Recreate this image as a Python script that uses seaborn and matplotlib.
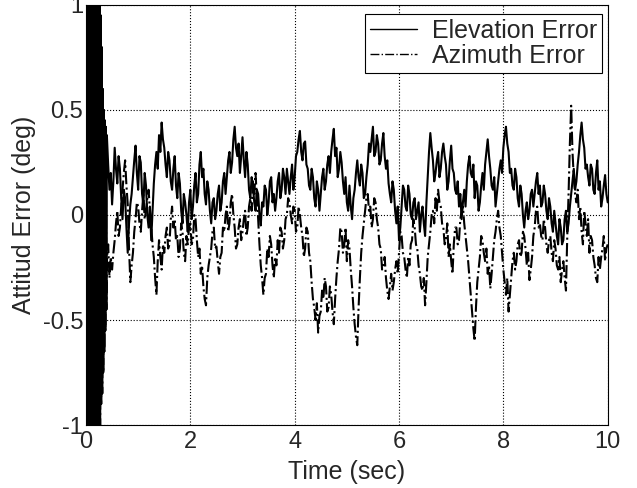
import numpy as np
import pandas as pd
import matplotlib
matplotlib.use("Agg")
import matplotlib.pyplot as plt
import seaborn as sns

# start-up transient, sampled every 0.01 s (0.00 .. 0.39)
transient = [1.9, -1.9, 1.9, -1.8, 1.8, -1.8, 1.7, -1.7, 1.7, -1.6,
             1.6, -1.6, 1.5, -1.5, 1.5, -1.4, 1.4, -1.4, 1.3, -1.3,
             1.3, -1.25, 1.2, -1.2, 1.15, -1.1, 1.05, -1.0, 0.95, -0.9,
             0.8, -0.85, 0.6, -0.75, 0.5, -0.65, 0.45, -0.55, 0.42, -0.45]

# steady part, sampled every 0.025 s (0.40 .. 10.00)
elevation = [
    0.38, 0.24, 0.12, 0.20, 0.05, 0.16, 0.32, 0.22, 0.15, 0.28, 0.22, 0.08, -0.02, 0.12, 0.08, -0.06, -0.18, -0.04, 0.05, 0.10,
    0.18, 0.26, 0.33, 0.20, 0.12, 0.28, 0.25, 0.10, 0.05, 0.20, 0.14, 0.00, -0.06, 0.04, -0.12, 0.02, 0.15, 0.24, 0.30, 0.22,
    0.38, 0.30, 0.44, 0.36, 0.32, 0.24, 0.18, 0.30, 0.26, 0.16, 0.12, 0.22, 0.28, 0.14, 0.08, 0.20, 0.15, 0.02, -0.04, 0.10,
    0.06, 0.00, -0.08, 0.06, 0.12, -0.02, 0.04, 0.14, 0.20, 0.06, 0.10, 0.24, 0.30, 0.18, 0.22, 0.10, 0.05, 0.16, 0.12, 0.02,
    -0.04, 0.06, 0.08, -0.02, 0.02, 0.10, 0.14, 0.02, 0.06, 0.16, 0.20, 0.10, 0.18, 0.26, 0.30, 0.20, 0.25, 0.36, 0.42, 0.32,
    0.28, 0.34, 0.20, 0.28, 0.37, 0.26, 0.18, 0.30, 0.24, 0.12, 0.08, 0.18, 0.14, 0.06, 0.02, 0.12, 0.10, 0.00, -0.05, 0.06,
    0.04, 0.14, 0.12, 0.00, 0.06, 0.16, 0.18, 0.06, 0.10, 0.02, 0.08, 0.16, 0.20, 0.08, 0.12, 0.22, 0.18, 0.10, 0.22, 0.16,
    0.10, 0.18, 0.24, 0.12, 0.18, 0.28, 0.30, 0.36, 0.40, 0.30, 0.26, 0.34, 0.35, 0.24, 0.22, 0.14, 0.12, 0.22, 0.18, 0.08,
    0.04, 0.16, 0.12, 0.02, 0.10, 0.18, 0.22, 0.12, 0.16, 0.24, 0.28, 0.20, 0.30, 0.36, 0.41, 0.28, 0.32, 0.18, 0.22, 0.30,
    0.25, 0.16, 0.10, 0.18, 0.06, 0.02, 0.14, 0.04, -0.02, 0.08, 0.12, 0.20, 0.26, 0.18, 0.14, 0.24, 0.20, 0.08, 0.10, 0.18,
    0.24, 0.34, 0.30, 0.36, 0.42, 0.28, 0.30, 0.38, 0.34, 0.24, 0.26, 0.34, 0.39, 0.28, 0.22, 0.26, 0.15, 0.10, 0.06, 0.16,
    0.12, 0.02, -0.04, 0.04, -0.12, -0.06, 0.04, 0.14, 0.12, 0.04, 0.02, 0.14, 0.10, 0.00, -0.02, 0.06, 0.08, -0.02, 0.02, 0.06,
    -0.08, 0.00, 0.04, -0.04, -0.10, 0.06, 0.18, 0.30, 0.39, 0.32, 0.26, 0.16, 0.20, 0.26, 0.30, 0.18, 0.22, 0.30, 0.34, 0.28,
    0.24, 0.12, 0.16, 0.26, 0.33, 0.22, 0.20, 0.12, 0.10, 0.16, 0.04, 0.10, -0.02, 0.06, 0.12, 0.04, 0.16, 0.24, 0.28, 0.20,
    0.18, 0.24, 0.08, 0.16, 0.14, 0.02, 0.06, 0.14, 0.20, 0.12, 0.24, 0.30, 0.36, 0.28, 0.22, 0.14, 0.12, 0.18, 0.04, 0.10,
    0.16, 0.22, 0.26, 0.20, 0.32, 0.38, 0.42, 0.34, 0.30, 0.20, 0.22, 0.14, 0.12, 0.22, 0.18, 0.08, 0.04, 0.14, 0.10, 0.00,
    -0.06, 0.02, 0.06, -0.02, 0.02, 0.10, 0.12, 0.04, 0.10, 0.16, 0.20, 0.10, 0.14, 0.04, 0.06, 0.14, 0.10, 0.02, -0.02, 0.08,
    0.04, -0.04, -0.08, 0.02, -0.04, -0.10, -0.14, -0.02, -0.06, -0.14, -0.12, -0.02, 0.02, -0.08, -0.04, 0.04, 0.10, 0.16, 0.22, 0.12,
    0.16, 0.24, 0.30, 0.38, 0.44, 0.36, 0.32, 0.22, 0.24, 0.18, 0.14, 0.24, 0.22, 0.12, 0.10, 0.20, 0.26, 0.12, 0.16, 0.04,
    0.08, 0.14, 0.19, 0.10, 0.06]

azimuth = [
    -0.22, -0.14, -0.30, -0.20, -0.26, -0.18, -0.12, -0.04, 0.02, -0.10, -0.06, 0.04, 0.12, 0.20, 0.26, 0.14, 0.05, -0.16, -0.32, -0.24,
    -0.18, -0.08, -0.02, 0.06, 0.04, -0.04, -0.08, 0.02, 0.10, -0.02, 0.02, 0.08, 0.12, 0.02, -0.05, -0.14, -0.20, -0.30, -0.38, -0.22,
    -0.12, -0.20, -0.26, -0.14, -0.18, -0.10, -0.06, -0.16, -0.14, -0.02, 0.04, -0.06, -0.02, -0.12, -0.10, -0.20, -0.16, -0.04, -0.08, -0.18,
    -0.22, -0.10, -0.14, -0.06, -0.04, -0.14, -0.12, 0.00, -0.02, -0.12, -0.20, -0.16, -0.28, -0.24, -0.34, -0.40, -0.43, -0.30, -0.24, -0.20,
    -0.16, -0.08, -0.06, -0.16, -0.15, -0.22, -0.28, -0.20, -0.18, -0.06, -0.08, 0.00, 0.04, -0.08, -0.04, 0.06, 0.10, 0.00, -0.06, -0.16,
    -0.14, -0.06, -0.02, -0.12, -0.08, -0.02, 0.02, -0.10, -0.06, 0.04, 0.08, 0.02, 0.16, 0.10, 0.20, 0.08, -0.02, -0.14, -0.24, -0.30,
    -0.38, -0.30, -0.28, -0.16, -0.20, -0.10, -0.14, -0.24, -0.30, -0.20, -0.24, -0.12, -0.18, -0.06, -0.08, -0.16, -0.12, -0.02, 0.00, 0.08,
    0.06, 0.00, -0.04, 0.04, 0.02, -0.08, -0.06, 0.04, 0.00, -0.06, -0.10, -0.20, -0.16, -0.06, -0.08, -0.18, -0.22, -0.32, -0.40, -0.44,
    -0.50, -0.42, -0.56, -0.48, -0.46, -0.36, -0.40, -0.30, -0.34, -0.46, -0.44, -0.34, -0.38, -0.46, -0.52, -0.40, -0.30, -0.22, -0.16, -0.06,
    -0.08, -0.18, -0.14, -0.06, -0.22, -0.12, -0.16, -0.26, -0.34, -0.44, -0.52, -0.58, -0.62, -0.44, -0.30, -0.18, -0.10, -0.04, 0.02, 0.08,
    0.10, 0.02, 0.04, -0.06, -0.02, 0.08, 0.06, -0.02, -0.06, -0.14, -0.16, -0.26, -0.24, -0.20, -0.30, -0.36, -0.40, -0.34, -0.28, -0.36,
    -0.32, -0.26, -0.22, -0.28, -0.18, -0.08, -0.10, -0.18, -0.20, -0.26, -0.30, -0.20, -0.24, -0.14, -0.12, -0.02, -0.06, -0.14, -0.16, -0.24,
    -0.28, -0.34, -0.36, -0.30, -0.43, -0.32, -0.20, -0.14, -0.08, 0.00, 0.02, -0.04, 0.08, 0.02, 0.12, 0.06, 0.04, -0.04, -0.06, -0.14,
    -0.12, -0.04, -0.20, -0.14, -0.22, -0.28, -0.14, -0.06, -0.06, -0.14, -0.12, -0.02, 0.02, 0.04, -0.04, -0.10, -0.16, -0.22, -0.30, -0.38,
    -0.46, -0.54, -0.60, -0.44, -0.32, -0.26, -0.20, -0.10, -0.12, -0.18, -0.22, -0.16, -0.28, -0.24, -0.35, -0.28, -0.20, -0.12, -0.08, -0.02,
    0.02, -0.06, -0.10, -0.18, -0.26, -0.32, -0.38, -0.30, -0.46, -0.38, -0.30, -0.22, -0.18, -0.26, -0.22, -0.14, -0.12, -0.20, -0.18, -0.08,
    -0.10, -0.16, -0.24, -0.18, -0.31, -0.26, -0.20, -0.10, -0.06, 0.02, 0.04, -0.06, -0.04, -0.10, -0.12, -0.02, -0.06, -0.14, -0.18, -0.12,
    -0.10, -0.18, -0.22, -0.12, -0.16, -0.24, -0.26, -0.20, -0.32, -0.26, -0.22, -0.30, -0.36, -0.10, 0.10, 0.34, 0.52, 0.30, 0.18, 0.10,
    0.06, 0.12, -0.02, 0.04, -0.08, -0.14, 0.02, -0.04, -0.10, -0.02, -0.18, -0.10, -0.12, -0.20, -0.24, -0.30, -0.32, -0.20, -0.26, -0.20,
    -0.16, -0.10, -0.22, -0.16, -0.14]

t_trans = 0.01 * np.arange(len(transient))
t_main = 0.40 + 0.025 * np.arange(len(elevation))
time = np.concatenate([t_trans, t_main])

df = pd.DataFrame({
    "time": time,
    "Elevation Error": np.concatenate([transient, elevation]),
    "Azimuth Error": np.concatenate([transient, azimuth]),
})

sns.set_style("white")
plt.rcParams["font.family"] = ["Liberation Sans", "DejaVu Sans"]

fig = plt.figure(figsize=(6.37, 4.88), dpi=100)
ax = fig.add_axes([0.135, 0.129, 0.819, 0.861])

sns.lineplot(data=df, x="time", y="Elevation Error", color="k", lw=1.5,
             label="Elevation Error", ax=ax)
sns.lineplot(data=df, x="time", y="Azimuth Error", color="k", lw=1.5,
             linestyle="-.", label="Azimuth Error", ax=ax)

ax.set_xlim(0, 10)
ax.set_ylim(-1, 1)
ax.set_xticks([0, 2, 4, 6, 8, 10])
ax.set_yticks([-1, -0.5, 0, 0.5, 1])
ax.set_yticklabels(["-1", "-0.5", "0", "0.5", "1"])
ax.tick_params(direction="in", length=5, labelsize=17, color="k")
ax.tick_params(axis="x", pad=4)
ax.tick_params(axis="y", pad=2)
ax.grid(True, linestyle=":", color="k", lw=0.8)
for s in ax.spines.values():
    s.set_color("k")
    s.set_linewidth(0.8)

ax.set_xlabel("Time (sec)", fontsize=18, labelpad=5)
ax.set_ylabel("Attitud Error (deg)", fontsize=18, labelpad=5)

leg = ax.legend(loc="upper right", bbox_to_anchor=(0.990, 0.979),
                borderaxespad=0, fontsize=18, frameon=True, fancybox=False,
                edgecolor="k", framealpha=1, handlelength=1.9,
                labelspacing=0.05, borderpad=0.2, handletextpad=0.6)
leg.get_frame().set_linewidth(0.8)
for h in leg.get_lines():
    h.set_linewidth(1.0)

fig.savefig("out.png", dpi=100)
